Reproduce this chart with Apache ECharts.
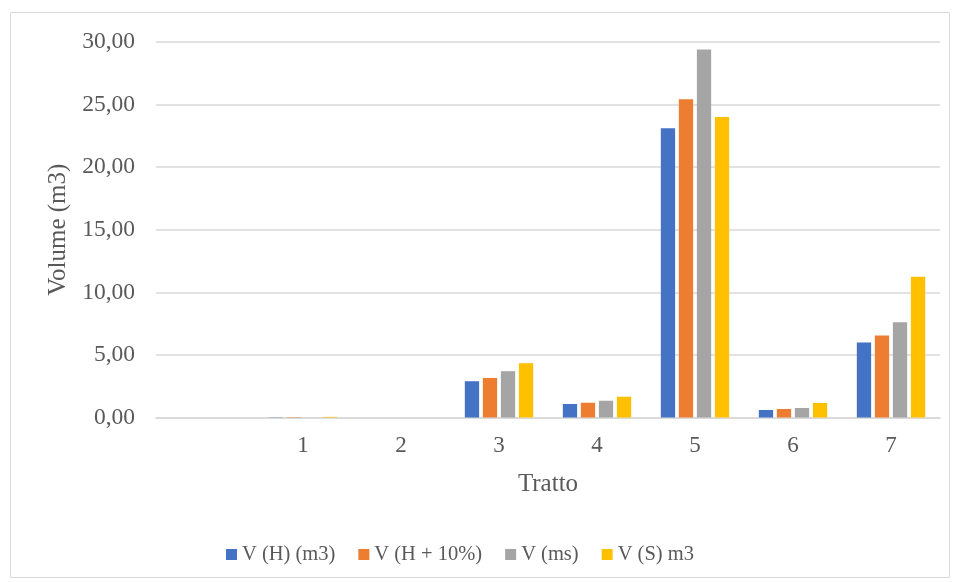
<!DOCTYPE html>
<html>
<head>
<meta charset="utf-8">
<script src="https://cdn.jsdelivr.net/npm/echarts@6/dist/echarts.min.js"></script>
<style>html,body{margin:0;padding:0;background:#fff}#c{width:957px;height:582px}</style>
</head>
<body>
<div id="c"></div>
<script>
const categories = ['', '1', '2', '3', '4', '5', '6', '7'];
const seriesNames = ['V (H) (m3)', 'V (H + 10%)', 'V (ms)', 'V (S) m3'];
const vH = [null, 0.02, 0, 2.90, 1.08, 23.10, 0.60, 5.99];
const vH10 = [null, 0.03, 0, 3.16, 1.18, 25.42, 0.68, 6.56];
const vMs = [null, 0.01, 0, 3.70, 1.34, 29.41, 0.76, 7.60];
const vS = [null, 0.05, 0, 4.34, 1.66, 24.00, 1.16, 11.24];
const colors = ['#4472c4', '#ed7d31', '#a5a5a5', '#ffc000'];
const yTicks = [0, 5, 10, 15, 20, 25, 30];

const font = 'Liberation Serif';
const chart = echarts.init(document.getElementById('c'));
const data = [vH, vH10, vMs, vS];
chart.setOption({
  animation: false,
  graphic: [{
    type: 'rect', shape: {x: 10.5, y: 12.5, width: 939, height: 565},
    style: {fill: 'none', stroke: '#d9d9d9', lineWidth: 1}, silent: true, z: -1
  }],
  grid: {left: 156, right: 17, top: 42, bottom: 164.5, containLabel: false},
  legend: {
    left: 221, top: 539, itemWidth: 11, itemHeight: 11, itemGap: 23,
    icon: 'rect',
    textStyle: {fontFamily: font, fontSize: 20.5, color: '#595959'},
    data: seriesNames
  },
  xAxis: {
    type: 'category', data: categories,
    name: 'Tratto', nameLocation: 'middle', nameGap: 54,
    nameTextStyle: {fontFamily: font, fontSize: 25, color: '#595959'},
    axisLine: {lineStyle: {color: '#d9d9d9', width: 1.5}},
    axisTick: {show: false},
    axisLabel: {fontFamily: font, fontSize: 23, color: '#595959', margin: 17}
  },
  yAxis: {
    type: 'value', min: yTicks[0], max: yTicks[yTicks.length - 1], interval: 5,
    name: 'Volume (m3)', nameLocation: 'middle', nameGap: 76,
    nameTextStyle: {fontFamily: font, fontSize: 25, color: '#595959'},
    axisLine: {show: false}, axisTick: {show: false},
    splitLine: {lineStyle: {color: '#d9d9d9', width: 1.5}},
    axisLabel: {
      fontFamily: font, fontSize: 23.5, color: '#595959', margin: 21,
      formatter: v => v.toFixed(2).replace('.', ',')
    }
  },
  series: seriesNames.map((n, i) => ({
    name: n, type: 'bar', data: data[i], barWidth: 14.3, barGap: '26%',
    itemStyle: {color: colors[i]}
  }))
});
</script>
</body>
</html>
